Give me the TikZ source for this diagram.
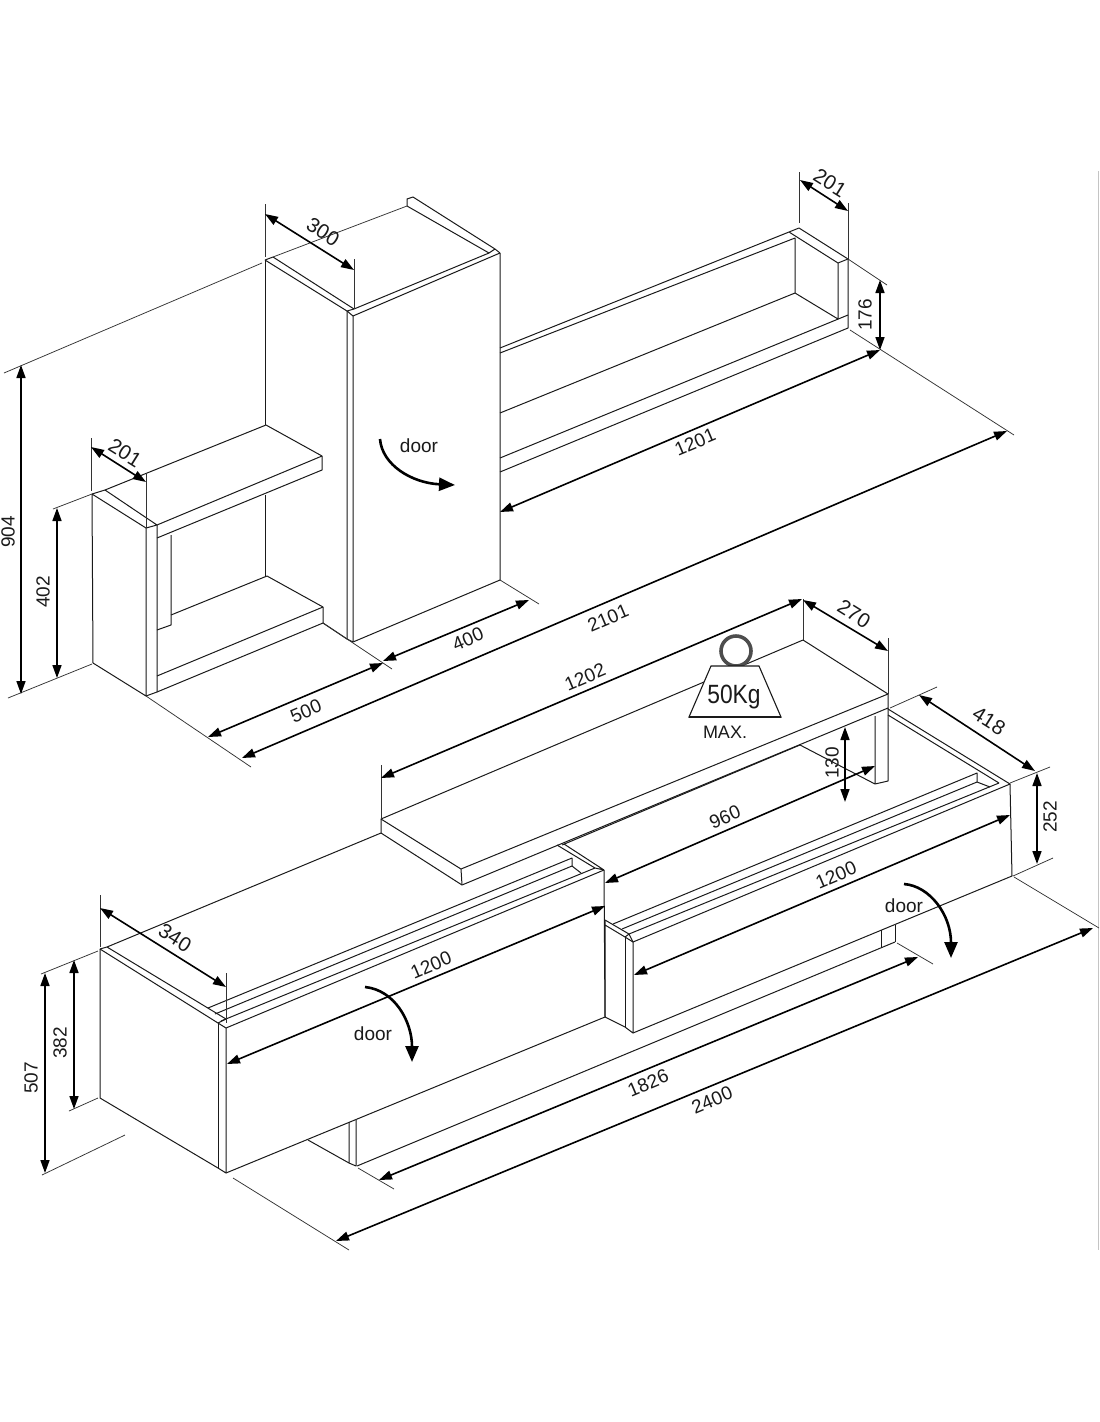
\documentclass[tikz,border=0pt]{standalone}
\usepackage{fontspec}
\setmainfont{Liberation Sans}
\usetikzlibrary{arrows.meta}
\definecolor{ink}{HTML}{1A1A1A}
\definecolor{extline}{HTML}{333333}
\definecolor{ringgray}{HTML}{4D4D4D}
\definecolor{edgegray}{HTML}{C4C4C4}
\tikzset{
  edge/.style={draw=ink,line width=1pt,line join=round},
  ext/.style={draw=extline,line width=0.75pt},
  dimline/.style={draw=black,line width=1.6pt,{Triangle[length=13pt,width=9pt]}-{Triangle[length=13pt,width=9pt]}},
  dimtext/.style={font=\fontsize{19}{19}\selectfont,text=ink,inner sep=0pt},
  dimtilt/.style={font=\fontsize{20.5}{20.5}\selectfont,text=ink,inner sep=0pt},
  swing/.style={draw=black,line width=2.6pt,-{Triangle[length=16pt,width=13pt]}}
}
\begin{document}
\begin{tikzpicture}[x=1pt,y=-1pt]
\useasboundingbox[fill=white] (0,0) rectangle (1100,1422);
\draw[draw=edgegray,line width=1pt] (1098,171)--(1098,1250);

% ---------- tall cabinet ----------
\draw[edge] (265,260)--(347,311) (273,257)--(354,309) (265,260)--(273,257);
\draw[edge] (265,260)--(265,425) (265,495)--(265,576);
\draw[edge] (347,311)--(347,639) (353,316)--(353,642) (347,639)--(353,642);
\draw[edge] (347,311)--(354,309)--(489,253) (347,311)--(353,316)--(500,253);
\draw[edge] (500,253)--(500,580) (353,642)--(500,580);
\draw[edge] (407,206)--(407,199)--(413,197)--(495,249)--(500,253) (407,206)--(489,253) (489,253)--(495,249);

% ---------- left unit ----------
\draw[edge] (92,494)--(93,663)--(146,696)--(146,528)--(92,494);
\draw[edge] (92,494)--(105,490)--(157,525)--(146,528);
\draw[edge] (157,525)--(157,692)--(146,696);
\draw[edge] (105,490)--(266,425)--(322,456)--(322,470)--(157,538);
\draw[edge] (157,525)--(322,456);
\draw[edge] (171,535)--(171,625)--(157,630);
\draw[edge] (171,615)--(267,576)--(323,607)--(323,623)--(157,692);
\draw[edge] (157,676)--(323,607);
\draw[edge] (323,623)--(347,639);

% ---------- wall shelf ----------
\draw[edge] (500,348)--(789,232)--(799,228)--(848,259)--(838,263)--(789,232);
\draw[edge] (500,353)--(795,238)--(795,293)--(838,319)--(838,263);
\draw[edge] (500,413)--(795,293);
\draw[edge] (848,259)--(848,328)--(500,472);
\draw[edge] (500,458)--(848,315);

% ---------- TV top shelf ----------
\draw[edge] (803,640)--(888,694)--(888,708)--(462,885)--(381,833)--(381,819)--(803,640);
\draw[edge] (381,819)--(461,869)--(888,694) (461,869)--(462,885);
\draw[edge] (888,708)--(888,781)--(875,784)--(875,716) (875,784)--(800,745)--(562,845);

% ---------- left base cabinet ----------
\draw[edge] (100,949)--(100,1098)--(218,1168)--(226,1173)--(226,1028);
\draw[edge] (218,1023)--(218,1168);
\draw[edge] (100,949)--(218,1023)--(226,1028);
\draw[edge] (100,949)--(107,947)--(226,1019)--(218,1023);
\draw[edge] (107,947)--(381,833);
\draw[edge] (208,1008)--(572,858)--(572,866)--(215,1014);
\draw[edge] (221,1021)--(595,868) (226,1028)--(604,870);
\draw[edge] (572,866)--(581,873);
\draw[edge] (557,845)--(595,868)--(604,870) (564,844)--(604,870);
\draw[edge] (604,870)--(605,1017);
\draw[edge] (226,1173)--(605,1017);
\draw[edge] (308,1140)--(349,1163)--(356,1166)--(356,1120) (349,1122)--(349,1163);

% ---------- right base cabinet ----------
\draw[edge] (605,920)--(605,1017)--(625,1027)--(633,1033)--(633,942)--(625,937)--(605,925);
\draw[edge] (625,937)--(625,1027);
\draw[edge] (605,920)--(629,934)--(625,937) (629,934)--(633,942);
\draw[edge] (613,924)--(977,773)--(977,782)--(622,929);
\draw[edge] (629,934)--(999,783);
\draw[edge] (633,942)--(1010,784)--(1012,876)--(633,1033);
\draw[edge] (888,709)--(1010,784) (888,715)--(999,783);
\draw[edge] (977,782)--(990,787);
\draw[edge] (881,930)--(881,948) (895,925)--(895,942);
\draw[edge] (357,1166)--(895,942);

% ---------- extension lines ----------
\draw[ext] (4,373)--(262,263) (273,257)--(407,206);
\draw[ext] (265,204)--(265,257) (354,259)--(354,309);
\draw[ext] (53,509)--(92,494) (8,698)--(92,664);
\draw[ext] (91,438)--(91,491) (146,473)--(146,528);
\draw[ext] (146,696)--(251,767);
\draw[ext] (500,580)--(539,604) (323,623)--(392,669);
\draw[ext] (799,172)--(799,223) (848,203)--(848,259);
\draw[ext] (848,259)--(887,285) (850,330)--(1014,435);
\draw[ext] (803,599)--(803,640) (888,638)--(888,694);
\draw[ext] (381,765)--(381,818);
\draw[ext] (890,708)--(937,687) (1010,783)--(1050,767) (1013,876)--(1053,858);
\draw[ext] (1014,877)--(1099,928);
\draw[ext] (897,943)--(933,964);
\draw[ext] (100,895)--(100,947) (226,973)--(226,1023);
\draw[ext] (41,974)--(98,951) (69,1111)--(98,1098);
\draw[ext] (42,1175)--(125,1135);
\draw[ext] (233,1178)--(349,1250) (358,1168)--(394,1189);

% ---------- dimension arrows ----------
\draw[dimline] (265,214)--(354,270);
\draw[dimline] (21,365)--(21,694);
\draw[dimline] (57,508)--(57,678);
\draw[dimline] (91,447)--(146,482);
\draw[dimline] (208,737)--(383,663);
\draw[dimline] (383,661)--(529,600);
\draw[dimline] (242,758)--(1007,431);
\draw[dimline] (500,512)--(880,350);
\draw[dimline] (800,180)--(848,211);
\draw[dimline] (880,280)--(880,350);
\draw[dimline] (381,778)--(802,599);
\draw[dimline] (803,600)--(888,651);
\draw[dimline] (845,727)--(845,802);
\draw[dimline] (605,883)--(875,766);
\draw[dimline] (919,695)--(1035,771);
\draw[dimline] (1037,773)--(1037,864);
\draw[dimline] (634,975)--(1010,815);
\draw[dimline] (227,1064)--(605,906);
\draw[dimline] (100,908)--(226,987);
\draw[dimline] (74,960)--(74,1109);
\draw[dimline] (45,973)--(45,1173);
\draw[dimline] (379,1180)--(918,957);
\draw[dimline] (336,1241)--(1093,928);

% ---------- door swing arrows ----------
\draw[swing] (380,439) .. controls (382,465) and (412,483) .. (455,485);
\draw[swing] (904,884) .. controls (930,886) and (951,915) .. (951,958);
\draw[swing] (365,987) .. controls (395,990) and (412,1022) .. (412,1062);

% ---------- labels ----------
\node[dimtilt,rotate=-32] (t300) at (323,232) {300};
\node[dimtext,rotate=90] (t904) at (8,532) {904};
\node[dimtext,rotate=90] (t402) at (43,592) {402};
\node[dimtilt,rotate=-32] (t201a) at (125,453) {201};
\node[dimtext,rotate=23] (t500) at (306,711) {500};
\node[dimtext,rotate=23] (t400) at (468,639) {400};
\node[dimtext,rotate=23] (t2101) at (608,618) {2101};
\node[dimtext,rotate=23] (t1201) at (695,442) {1201};
\node[dimtilt,rotate=-32] (t201b) at (830,183) {201};
\node[dimtext,rotate=90] (t176) at (865,315) {176};
\node[dimtext,rotate=23] (t1202) at (585,677) {1202};
\node[dimtilt,rotate=-32] (t270) at (854,614) {270};
\node[dimtext,rotate=90] (t130) at (832,763) {130};
\node[dimtext,rotate=23] (t960) at (725,817) {960};
\node[dimtilt,rotate=-32] (t418) at (989,721) {418};
\node[dimtext,rotate=90] (t252) at (1050,817) {252};
\node[dimtext,rotate=23] (t1200r) at (836,875) {1200};
\node[dimtext,rotate=23] (t1200l) at (431,965) {1200};
\node[dimtilt,rotate=-32] (t340) at (175,938) {340};
\node[dimtext,rotate=90] (t382) at (60,1043) {382};
\node[dimtext,rotate=90] (t507) at (31,1078) {507};
\node[dimtext,rotate=23] (t1826) at (648,1083) {1826};
\node[dimtext,rotate=23] (t2400) at (712,1100) {2400};
\node[dimtext] (d1) at (419,446) {door};
\node[dimtext] (d2) at (373,1034) {door};
\node[dimtext] (d3) at (904,906) {door};

% ---------- load symbol ----------
\draw[draw=ringgray,line width=3.6pt] (736,651) circle[radius=15];
\draw[fill=white,draw=ink,line width=1.1pt] (711,666)--(759,666)--(781,717)--(689,717)--cycle;
\draw[draw=ink,line width=1.6pt] (689,717)--(781,717);
\node[inner sep=0pt,font=\fontsize{24}{24}\selectfont,text=ink,xscale=0.95,yscale=1.1] (kg) at (734,697) {50Kg};
\node[inner sep=0pt,font=\fontsize{18}{18}\selectfont,text=ink] (maxl) at (725,732) {MAX.};
\end{tikzpicture}
\end{document}
